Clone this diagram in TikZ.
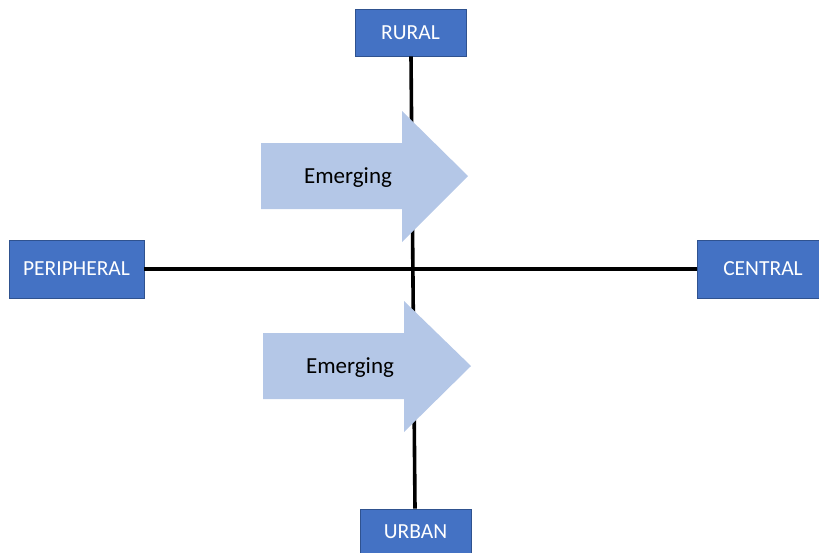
\documentclass[tikz,border=0pt]{standalone}
\usepackage{fontspec}
\setmainfont{Carlito}
\begin{document}
\begin{tikzpicture}[x=1pt,y=-1pt,
  box/.style={draw=boxborder,fill=boxfill,line width=0.8pt,text=white,inner sep=0pt,font=\fontsize{21.5}{24}\selectfont},
  axis/.style={line width=3.6pt,black},
  bigarrow/.style={fill=arrowfill,draw=none},
  lbl/.style={font=\fontsize{23}{26}\selectfont,text=black,inner sep=0pt}]
\definecolor{boxfill}{HTML}{4472C4}
\definecolor{boxborder}{HTML}{2F528F}
\definecolor{arrowfill}{HTML}{B4C7E7}
\useasboundingbox (0,0) rectangle (819,552);
\node[box,minimum width=111pt,minimum height=47pt] (rural) at (410.5,32.5) {RURAL};
\node[box,minimum width=135pt,minimum height=58pt] (peri) at (76.5,269) {PERIPHERAL};
\node[box,minimum width=132pt,minimum height=58pt] (central) at (763,269) {CENTRAL};
\node[box,minimum width=111pt,minimum height=46pt] (urban) at (415.5,532) {URBAN};
\coordinate (vtop) at (411,56);
\coordinate (vbot) at (415,509);
\draw[axis] (rural.south -| vtop) -- (urban.north -| vbot);
\draw[axis] (peri.east) -- (central.west);
\fill[bigarrow] (261,143) -- (402,143) -- (402,111) -- (468,176) -- (402,242) -- (402,209) -- (261,209) -- cycle;
\node[lbl] (em1) at (348,178) {Emerging};
\fill[bigarrow] (263,333) -- (404,333) -- (404,301) -- (471,366) -- (404,432) -- (404,399) -- (263,399) -- cycle;
\node[lbl] (em2) at (350,368) {Emerging};
\end{tikzpicture}
\end{document}
